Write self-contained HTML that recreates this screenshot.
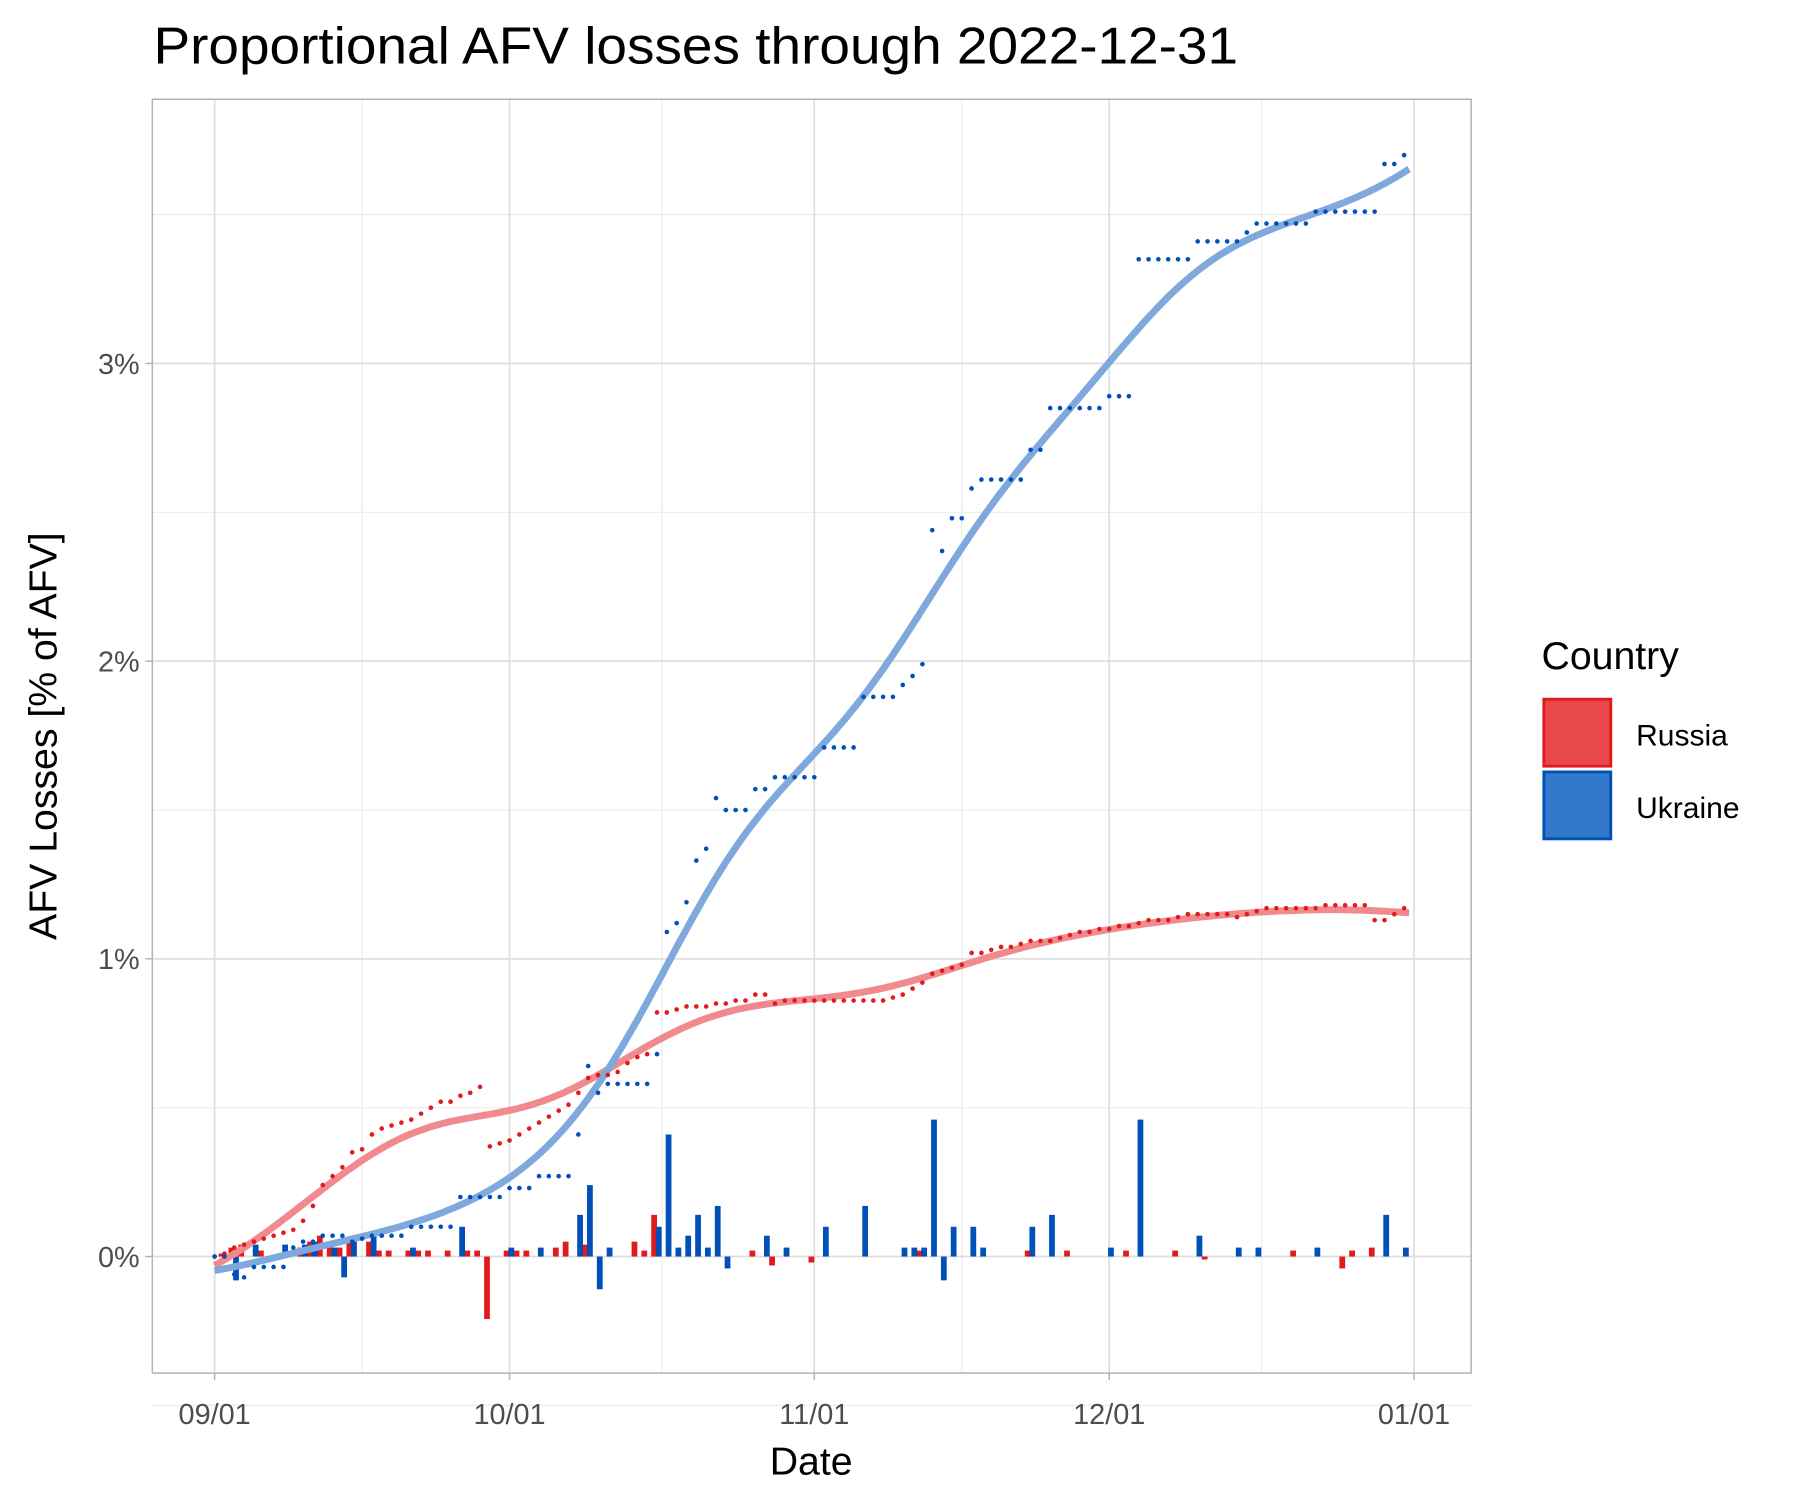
<!DOCTYPE html>
<html><head><meta charset="utf-8"><style>
html,body{margin:0;padding:0;background:#fff}
svg{display:block}
text{font-family:"Liberation Sans",sans-serif}
</style></head><body>
<svg id="chart" width="1800" height="1500" viewBox="0 0 1560 1300" xmlns="http://www.w3.org/2000/svg">
<rect x="0" y="0" width="1560" height="1300" fill="#fff"/>
<text x="133" y="55" font-size="45" fill="#000" textLength="940" lengthAdjust="spacingAndGlyphs">Proportional AFV losses through 2022-12-31</text>
<g id="grid"></g>
<g id="bars"></g>
<g id="smooth"></g>
<g id="points"></g>
<rect x="132" y="86" width="1143" height="1104" fill="none" stroke="#b3b3b3" stroke-width="1.3"/>
<g id="axes"></g>
<text x="703" y="1278" font-size="34" text-anchor="middle" fill="#000">Date</text>
<text transform="translate(49,638) rotate(-90)" font-size="34" text-anchor="middle" fill="#000">AFV Losses [% of AFV]</text>
<g>
<text x="1336" y="580" font-size="34" fill="#000">Country</text>
<rect x="1338" y="606" width="58" height="58" fill="#e8474b" stroke="#e31a1c" stroke-width="2.5"/>
<text x="1418" y="646" font-size="26" fill="#000">Russia</text>
<rect x="1338" y="669" width="58" height="58" fill="#3478c9" stroke="#0050b8" stroke-width="2.5"/>
<text x="1418" y="709" font-size="26" fill="#000">Ukraine</text>
</g>
</svg>
<script>
const uaCum=[0,0,-0.06,-0.07,-0.035,-0.035,-0.035,-0.035,0.03,0.05,0.05,0.07,0.07,0.07,0.05,0.06,0.07,0.07,0.07,0.07,0.1,0.1,0.1,0.1,0.1,0.2,0.2,0.2,0.2,0.2,0.23,0.23,0.23,0.27,0.27,0.27,0.27,0.41,0.64,0.55,0.58,0.58,0.58,0.58,0.58,0.68,1.09,1.12,1.19,1.33,1.37,1.54,1.5,1.5,1.5,1.57,1.57,1.61,1.61,1.61,1.61,1.61,1.71,1.71,1.71,1.71,1.88,1.88,1.88,1.88,1.92,1.95,1.99,2.44,2.37,2.48,2.48,2.58,2.61,2.61,2.61,2.61,2.61,2.71,2.71,2.85,2.85,2.85,2.85,2.85,2.85,2.89,2.89,2.89,3.35,3.35,3.35,3.35,3.35,3.35,3.41,3.41,3.41,3.41,3.41,3.44,3.47,3.47,3.47,3.47,3.47,3.47,3.51,3.51,3.51,3.51,3.51,3.51,3.51,3.67,3.67,3.7];
const ruCum=[0,0.01,0.03,0.04,0.05,0.06,0.07,0.08,0.09,0.12,0.17,0.24,0.27,0.3,0.35,0.36,0.41,0.43,0.44,0.45,0.46,0.48,0.5,0.52,0.52,0.54,0.55,0.57,0.37,0.38,0.39,0.41,0.43,0.45,0.47,0.49,0.51,0.55,0.6,0.61,0.61,0.62,0.65,0.67,0.68,0.82,0.82,0.83,0.84,0.84,0.84,0.85,0.85,0.86,0.86,0.88,0.88,0.85,0.86,0.86,0.86,0.86,0.86,0.86,0.86,0.86,0.86,0.86,0.86,0.87,0.88,0.9,0.92,0.95,0.96,0.97,0.98,1.02,1.02,1.03,1.04,1.04,1.05,1.06,1.06,1.06,1.07,1.08,1.09,1.09,1.1,1.1,1.11,1.11,1.12,1.13,1.13,1.13,1.14,1.15,1.15,1.15,1.15,1.15,1.14,1.15,1.16,1.17,1.17,1.17,1.17,1.17,1.17,1.18,1.18,1.18,1.18,1.18,1.13,1.13,1.15,1.17];
const uaBarDays=[2,4,7,9,10,12,13,14,16,20,25,30,33,37,38,39,40,45,46,47,48,49,50,51,52,56,58,62,66,70,71,72,73,74,75,77,78,83,85,91,94,100,104,106,112,119,121];
const uaBarVals=[-0.08,0.04,0.04,0.04,0.05,0.03,-0.07,0.05,0.07,0.03,0.1,0.03,0.03,0.14,0.24,-0.11,0.03,0.1,0.41,0.03,0.07,0.14,0.03,0.17,-0.04,0.07,0.03,0.1,0.17,0.03,0.03,0.03,0.46,-0.08,0.1,0.1,0.03,0.1,0.14,0.03,0.46,0.07,0.03,0.03,0.03,0.14,0.03];
const ruBarDays=[1,2,3,5,9,10,11,12,13,14,16,17,18,20,21,22,24,26,27,28,30,31,32,35,36,38,43,44,45,55,57,61,72,83,87,93,98,101,110,115,116,118];
const ruBarVals=[0.01,0.03,0.04,0.02,0.03,0.05,0.07,0.04,0.03,0.05,0.05,0.02,0.02,0.02,0.02,0.02,0.02,0.02,0.02,-0.21,0.02,0.02,0.02,0.03,0.05,0.04,0.05,0.02,0.14,0.02,-0.03,-0.02,0.02,0.02,0.02,0.02,0.02,-0.01,0.02,-0.04,0.02,0.03];
const xTickDays=[0,30,61,91,122];
const xTickLabels=["09/01","10/01","11/01","12/01","01/01"];
const yTicks=[0,1,2,3];
const yTickLabels=["0%","1%","2%","3%"];

const NS="http://www.w3.org/2000/svg";
const x=d=>186+8.52*d;
const y=v=>1089-258*v;
function mk(tag,attrs,parent){const e=document.createElementNS(NS,tag);for(const k in attrs)e.setAttribute(k,attrs[k]);parent.appendChild(e);return e;}
const grid=document.getElementById('grid'),axes=document.getElementById('axes');
for(let i=0;i<xTickDays.length-1;i++){const xm=x((xTickDays[i]+xTickDays[i+1])/2);
 const l=mk('line',{x1:xm,x2:xm,y1:86,y2:1190,stroke:'#ebebeb','stroke-width':1},grid);
 
 }
for(let v=-0.5;v<=3.5;v+=1){const l=mk('line',{x1:132,x2:1275,y1:y(v),y2:y(v),stroke:'#ebebeb','stroke-width':1},grid);
 
 }
xTickDays.forEach((d,i)=>{const l=mk('line',{x1:x(d),x2:x(d),y1:86,y2:1190,stroke:'#dedede','stroke-width':1.5},grid);
 
 
 const t=mk('line',{x1:x(d),x2:x(d),y1:1190,y2:1196,stroke:'#b3b3b3','stroke-width':1.3},axes);
 
 
 const tx=mk('text',{x:x(d),y:1234,'font-size':25,'text-anchor':'middle',fill:'#4d4d4d'},axes);tx.textContent=xTickLabels[i];
 
 });
yTicks.forEach((v,i)=>{const l=mk('line',{x1:132,x2:1275,y1:y(v),y2:y(v),stroke:'#dedede','stroke-width':1.5},grid);
 
 
 const t=mk('line',{x1:126,x2:132,y1:y(v),y2:y(v),stroke:'#b3b3b3','stroke-width':1.3},axes);
 
 
 const tx=mk('text',{x:121,y:y(v)+9,'font-size':25,'text-anchor':'end',fill:'#4d4d4d'},axes);tx.textContent=yTickLabels[i];
 
 });
const bars=document.getElementById('bars');
function drawBars(days,vals,col,off,name){days.forEach((d,i)=>{const v=vals[i];const y0=y(0),y1=y(v);
 const r=mk('rect',{x:x(d)+off,y:Math.min(y0,y1),width:5,height:Math.max(Math.abs(y1-y0),1),fill:col},bars);
 
 });}
drawBars(ruBarDays,ruBarVals,'#e31a1c',-5,'russia-daily-bar');
drawBars(uaBarDays,uaBarVals,'#0050b8',-1,'ukraine-daily-bar');
function smooth(arr,bw){const n=arr.length,out=[];for(let t=0;t<n;t+=0.5){let sw=0,sx=0,sy=0,sxx=0,sxy=0;
 for(let i=0;i<n;i++){const w=Math.exp(-0.5*((i-t)/bw)**2);sw+=w;sx+=w*i;sy+=w*arr[i];sxx+=w*i*i;sxy+=w*i*arr[i];}
 const mx=sx/sw,my=sy/sw,vx=sxx/sw-mx*mx,b=(sxy/sw-mx*my)/vx;out.push([t,my+b*(t-mx)]);}return out;}
const sm=document.getElementById('smooth');
[[ruCum,'#f08a8e','russia-smooth-line'],[uaCum,'#7fa9dd','ukraine-smooth-line']].forEach(([a,c,nm])=>{
 const p=smooth(a,7).map((q,i)=>(i?'L':'M')+x(q[0]).toFixed(1)+','+y(q[1]).toFixed(1)).join('');
 const e=mk('path',{d:p,fill:'none',stroke:c,'stroke-width':6},sm);
 
 });
const pts=document.getElementById('points');
ruCum.forEach((v,d)=>{const c=mk('circle',{cx:x(d),cy:y(v),r:2,fill:'#e31a1c'},pts);
 
 });
uaCum.forEach((v,d)=>{const c=mk('circle',{cx:x(d),cy:y(v),r:2,fill:'#0050b8'},pts);
 
 });
</script>
</body></html>
